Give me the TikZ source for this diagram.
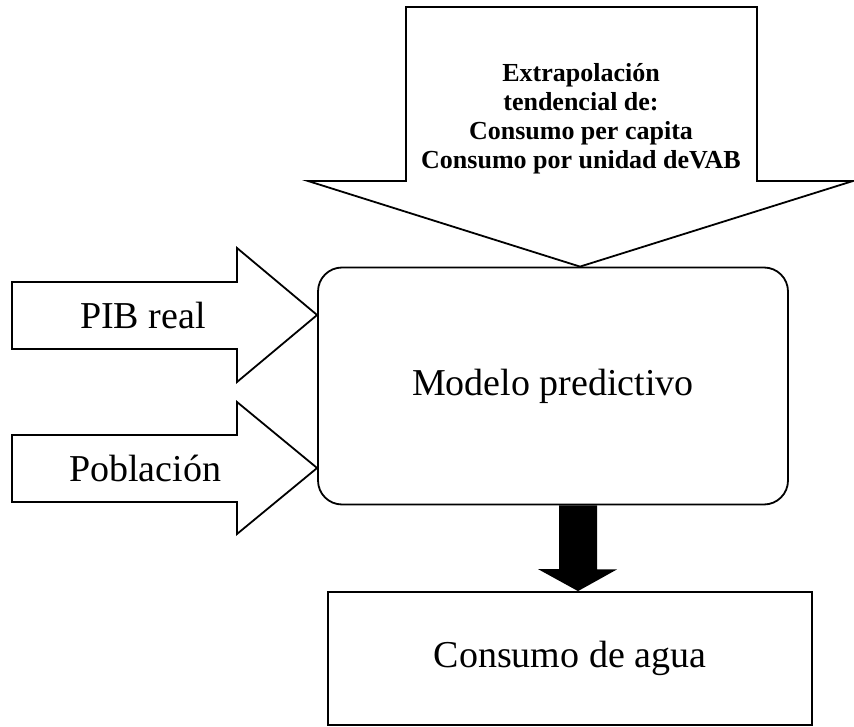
\documentclass[tikz,border=0pt]{standalone}
\usepackage{fontspec}
\setmainfont{Liberation Serif}
\usetikzlibrary{calc}
\begin{document}
\begin{tikzpicture}[x=1pt,y=-1pt,
  outline/.style={draw=black,line width=1.8pt,fill=white,line join=miter},
  bigtext/.style={font=\fontsize{38}{42}\selectfont,inner sep=0pt},
  toptext/.style={font=\bfseries\fontsize{26}{29}\selectfont,align=center,inner sep=0pt}]
\useasboundingbox (0,0) rectangle (854,727);
\fill[white] (0,0) rectangle (854,727);

% central boxes
\node[outline,rounded corners=24pt,minimum width=470pt,minimum height=237pt,inner sep=0pt] (modelo) at (553,386) {};
\node[bigtext] (modelolbl) at (modelo.center) {Modelo predictivo};
\node[outline,minimum width=484pt,minimum height=133pt,inner sep=0pt] (consumo) at (570,658.5) {};
\node[bigtext] (consumolbl) at (consumo.center) {Consumo de agua};

% top block arrow
\coordinate (tx) at (580,0);
\draw[outline] (406,7) -- (757,7) -- (757,181) -- (853,181) -- (modelo.north -| tx) -- (308,181) -- (406,181) -- cycle;
\node[toptext,anchor=south] (toplbl) at (581,174) {Extrapolación\\tendencial de:\\Consumo per capita\\Consumo por unidad deVAB};

% left block arrows
\draw[outline] (12,282) -- (237,282) -- (237,248) -- (modelo.west |- 0,315) -- (237,382) -- (237,349) -- (12,349) -- cycle;
\node[bigtext] (pib) at (143,316) {PIB real};
\draw[outline] (12,435) -- (237,435) -- (237,402) -- (modelo.west |- 0,468) -- (237,534) -- (237,502) -- (12,502) -- cycle;
\node[bigtext] (pob) at (145,468) {Población};

% black arrow from modelo to consumo
\coordinate (bx) at (578,0);
\fill[black] ($(modelo.south -| bx)+(-19,0)$) -- ++(38,0) -- ++(0,64) -- ++(20,0)
  -- (consumo.north -| bx) -- ++(-40,-22) -- ++(21,0) -- cycle;
\end{tikzpicture}
\end{document}
